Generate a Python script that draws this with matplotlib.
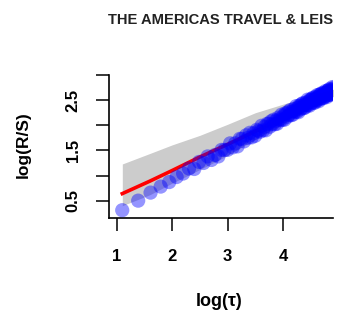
import numpy as np
import matplotlib.pyplot as plt

plt.rcParams['font.family'] = ['Liberation Sans', 'DejaVu Sans']

# lags tau = 3..137, plotted as log(tau)
tau = np.arange(3, 138)
log_rs = [0.31, 0.50, 0.66, 0.78, 0.87, 0.97, 1.04,
          1.14, 1.13, 1.27, 1.25, 1.38, 1.31, 1.41, 1.38, 1.51, 1.51, 1.51, 1.64, 1.56, 1.64, 1.58, 1.73,
          1.73, 1.68, 1.80, 1.75, 1.85, 1.76, 1.84, 1.79, 1.91, 1.89, 1.87, 1.99, 1.90, 1.97, 1.90, 2.03,
          2.03, 1.97, 2.08, 2.02, 2.11, 2.02, 2.09, 2.03, 2.15, 2.12, 2.10, 2.21, 2.11, 2.19, 2.11, 2.24,
          2.23, 2.17, 2.27, 2.21, 2.30, 2.20, 2.27, 2.21, 2.32, 2.29, 2.27, 2.38, 2.27, 2.34, 2.26, 2.39,
          2.38, 2.32, 2.42, 2.35, 2.44, 2.34, 2.41, 2.35, 2.45, 2.42, 2.40, 2.51, 2.40, 2.47, 2.39, 2.51,
          2.50, 2.44, 2.53, 2.47, 2.55, 2.45, 2.52, 2.45, 2.56, 2.52, 2.50, 2.60, 2.50, 2.56, 2.48, 2.61,
          2.59, 2.53, 2.62, 2.56, 2.64, 2.54, 2.60, 2.54, 2.64, 2.61, 2.58, 2.68, 2.58, 2.64, 2.56, 2.68,
          2.67, 2.60, 2.70, 2.63, 2.72, 2.61, 2.67, 2.61, 2.71, 2.68, 2.65, 2.76, 2.65, 2.71, 2.63, 2.75]

# expected R/S and its band
exp_x = [1.10, 1.60, 2.00, 2.50, 3.00, 3.50, 4.00, 4.40, 4.92]
exp_rs = [0.64, 0.89, 1.10, 1.37, 1.62, 1.88, 2.14, 2.36, 2.64]
band_lo = [0.40, 0.62, 0.85, 1.12, 1.40, 1.72, 2.02, 2.28, 2.58]
band_hi = [1.23, 1.44, 1.61, 1.80, 2.02, 2.25, 2.42, 2.55, 2.72]

xticks = [1, 2, 3, 4]
yticks = [0.5, 1.0, 1.5, 2.0, 2.5, 3.0]
yticklabels = ['0.5', '', '1.5', '', '2.5', '']

fig = plt.figure(figsize=(3.37, 3.22), dpi=100)
ax = fig.add_axes([109/337, 1 - 218/322, (333 - 109)/337, (218 - 75)/322])

ax.fill_between(exp_x, band_lo, band_hi, color='#CCCCCC', lw=0)
ax.plot(exp_x, exp_rs, color='red', lw=2.6)
ax.scatter(np.log(tau), log_rs, s=105, color=(0, 0, 1, 0.42), edgecolors='none', zorder=3)

ax.set_xlim(0.86, 4.9)
ax.set_ylim(0.155, 3.0)

for s in ['top', 'right']:
    ax.spines[s].set_visible(False)
for s in ['left', 'bottom']:
    ax.spines[s].set_linewidth(1.2)

ax.set_xticks(xticks)
ax.set_yticks(yticks)
ax.set_yticklabels(yticklabels, rotation=90, va='center')
ax.tick_params(length=9.5, width=1.1, labelsize=12, direction='out')
ax.tick_params(axis='x', pad=13)
ax.tick_params(axis='y', pad=11)
for lab in ax.get_xticklabels() + ax.get_yticklabels():
    lab.set_fontweight('bold')

fig.text(108/337, 1 - 20/322, 'THE AMERICAS TRAVEL & LEIS', fontsize=10.6,
         fontweight='bold', ha='left', va='center', color='#222222')
fig.text(219/337, 1 - 302/322, 'log(τ)', fontsize=13, fontweight='bold',
         ha='center', va='center')
fig.text(23/337, 1 - 145/322, 'log(R/S)', fontsize=12.5, fontweight='bold',
         ha='center', va='center', rotation=90)

fig.savefig('out.png', dpi=100)
